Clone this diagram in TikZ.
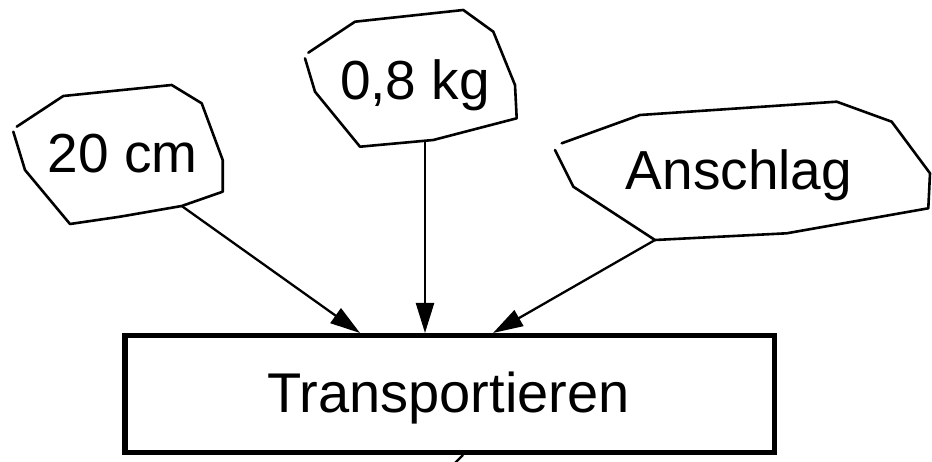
\documentclass[tikz,border=0pt]{standalone}
\usepackage{fontspec}
\setmainfont{Liberation Sans}
\usetikzlibrary{arrows.meta}

\tikzset{
  blob/.style={line width=2.6pt, line join=round, line cap=round},
  label/.style={anchor=base, inner sep=0pt, font=\fontsize{55}{60}\selectfont},
  feed/.style={line width=2.3pt, -{Triangle[length=30pt,width=18pt]}},
  taskbox/.style={draw, line width=5.5pt, minimum width=649.5pt, minimum height=116.5pt,
    inner sep=0pt, font=\fontsize{56}{62}\selectfont},
  tail/.style={line width=2.3pt}
}

\begin{document}
\begin{tikzpicture}[x=1pt,y=-1pt]
  \useasboundingbox (0,0) rectangle (932,462);

  % process box
  \node[taskbox] (box) at (449.5,394) {};
  \node[label, font=\fontsize{56}{62}\selectfont] (task) at (448.5,412) {Transportieren};

  % input blobs
  \draw[blob] (16.7,126.7) -- (63.3,96) -- (171.7,85) -- (201.7,103.3) -- (222.7,160)
    -- (222.7,191.7) -- (181.7,206) coordinate (c1) -- (120,216.7) -- (70,224)
    -- (25,170) -- (13.3,131.7);
  \node[label] (len) at (122.5,173) {20 cm};

  \draw[blob] (308.3,52.7) -- (355,21.7) -- (463.3,10) -- (493.3,31.7) -- (515,85)
    -- (516.7,118.3) -- (433.3,140) -- (360,146.7) -- (315,91.7) -- (305,58.3);
  \coordinate (c2) at (425,142.5);
  \node[label] (mass) at (415,100) {0,8 kg};

  \draw[blob] (561.7,143.3) -- (640,115) -- (836.7,101.7) -- (891.7,121.7) -- (930,173.3)
    -- (928.3,208.3) -- (786.7,233.3) -- (655,240) coordinate (c3) -- (573.3,186.7)
    -- (555,150);
  \node[label] (stop) at (739,190) {Anschlag};

  % targets on the top edge of the box
  \coordinate (t1) at ([xshift=-89.5pt]box.north);
  \coordinate (t2) at ([xshift=-24.5pt]box.north);
  \coordinate (t3) at ([xshift=43.5pt]box.north);

  \draw[feed] (c1) -- (t1);
  \draw[feed] (c2) -- (t2);
  \draw[feed] (c3) -- (t3);

  % outgoing line below the box
  \coordinate (out) at (455,463);
  \draw[tail] ([xshift=13.5pt]box.south) -- (out);
\end{tikzpicture}
\end{document}
